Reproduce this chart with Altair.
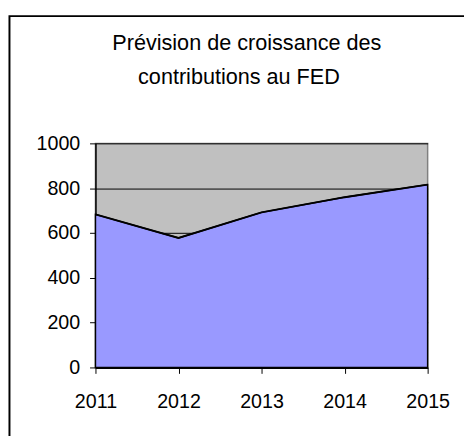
import altair as alt
import pandas as pd

years = ["2011", "2012", "2013", "2014", "2015"]
values = [683, 578, 692, 760, 816]
title_lines = ["Prévision de croissance des", "contributions au FED"]
y_ticks = [0, 200, 400, 600, 800, 1000]

df = pd.DataFrame({"year": years, "value": values})
FONT = "Liberation Sans"

x_enc = alt.X("year:O", scale=alt.Scale(type="point", padding=0),
              axis=alt.Axis(title=None, labelAngle=0, labelFontSize=20, labelFont=FONT,
                            labelColor="black", domainColor="black", domainWidth=2,
                            tickColor="black", tickSize=6, labelPadding=19, grid=False))
y_enc = alt.Y("value:Q", scale=alt.Scale(domain=[0, 1000], nice=False),
              axis=alt.Axis(title=None, values=y_ticks, format="d", labelFontSize=20, labelFont=FONT,
                            labelColor="black", domainColor="black", domainWidth=1.5,
                            tickColor="black", tickSize=6, labelPadding=10,
                            grid=True, gridColor="black", gridWidth=1, gridOpacity=1))

area = alt.Chart(df).mark_area(color="#9999FF", stroke="black", strokeWidth=1.5,
                               strokeJoin="miter").encode(x=x_enc, y=y_enc)
line = alt.Chart(df).mark_line(color="black", strokeWidth=2).encode(x="year:O", y="value:Q")

tdf = pd.DataFrame({"t": title_lines})
t1 = alt.Chart(tdf).transform_filter(alt.datum.t == title_lines[0]).mark_text(
    font=FONT, fontSize=22, color="black", align="center", baseline="alphabetic"
).encode(text="t:N", x=alt.value(154), y=alt.value(-95))
t2 = alt.Chart(tdf).transform_filter(alt.datum.t == title_lines[1]).mark_text(
    font=FONT, fontSize=22, color="black", align="center", baseline="alphabetic"
).encode(text="t:N", x=alt.value(146), y=alt.value(-60))

frame = alt.Chart(tdf).transform_filter(alt.datum.t == title_lines[0]).mark_rect(
    fill=None, stroke="black", strokeWidth=2, clip=False
).encode(x=alt.value(-87.5), x2=alt.value(600), y=alt.value(-129.5), y2=alt.value(600))

chart = alt.layer(area, line, t1, t2, frame).properties(
    width=338, height=228,
    autosize=alt.AutoSizeParams(type="none"),
    padding={"left": 89, "top": 134, "right": 37, "bottom": 66},
    background="white",
).configure_view(stroke="#808080", strokeWidth=1.5, fill="#C0C0C0")

chart.save("out.html", embed_options={"renderer": "svg", "actions": False})
